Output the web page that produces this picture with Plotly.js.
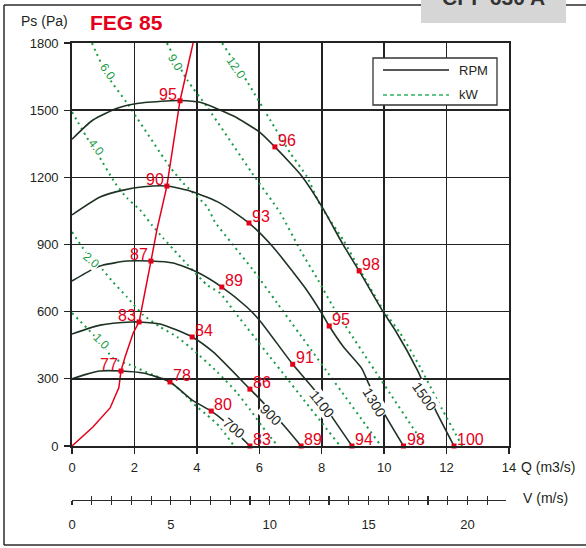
<!DOCTYPE html>
<html><head><meta charset="utf-8">
<script src="https://cdn.plot.ly/plotly-3.0.1.min.js"></script>
<style>html,body{margin:0;padding:0;background:#fff}#chart{width:586px;height:548px}</style>
</head><body><div id="chart"></div>
<script>
// ---------- DATA ----------
const xTicks = [0,2,4,6,8,10,12,14];
const yTicks = [0,300,600,900,1200,1500,1800];
const vTicks = [0,5,10,15,20];

// fan curves (Q m3/s, Ps Pa)
const rpmNames = ['700','900','1100','1300','1500'];
const q700 = [0,0.45,0.9,1.57,2.28,3.14,3.85,4.46,4.84,5.7];
const p700 = [300,320,335,335,326,286,205,156,116,0];
const q900 = [0,0.9,1.92,2.15,2.82,3.85,4.52,5.7,6.05,6.83,7.34];
const p900 = [500,540,554,554,545,487,420,254,205,85,0];
const q1100 = [0,0.67,1.0,1.76,2.53,3.24,4.0,4.8,5.6,6.0,7.07,7.8,8.33,8.97];
const p1100 = [737,790,808,826,826,817,777,710,621,563,365,245,130,0];
const q1300 = [0,0.9,1.64,2.3,3.04,3.88,4.74,5.67,6.44,7.08,7.5,8.0,8.24,8.7,9.28,9.5,10.06,10.62];
const p1300 = [1032,1112,1143,1158,1161,1135,1085,996,889,777,700,593,536,442,347,280,131,0];
const q1500 = [0,0.67,1.47,2.08,3.04,3.46,4.1,5.16,6.03,6.5,6.99,7.37,8.01,8.69,9.2,9.97,10.35,11.06,11.63,12.24];
const p1500 = [1370,1456,1510,1530,1541,1543,1535,1475,1400,1336,1264,1204,1068,898,782,599,518,340,165,0];

// power lines (kW)
const kwNames = ['1.0','2.0','4.0','6.0','9.0','12.0'];
const qKw1 = [0,0.9,1.31,1.86,2.6,3.14,3.56,4.01,4.33,4.74,5.19];
const pKw1 = [594,465,393,362,317,286,237,174,138,85,0];
const qKw2 = [0,0.58,0.99,1.31,1.76,2.28,2.82,3.37,3.88,4.65,5.29,5.71,6.25,6.6];
const pKw2 = [956,840,786,733,666,585,532,487,429,331,237,161,58,0];
const qKw4 = [0,0.58,0.8,1.38,1.76,2.18,2.56,2.92,4.33,4.74,5.16,8.59];
const pKw4 = [1492,1354,1309,1175,1108,1054,987,929,719,683,608,0];
const qKw6 = [0.64,1.12,1.76,3.14,3.56,4.33,4.58,5.16,5.8,6.57,9.9];
const pKw6 = [1800,1657,1532,1246,1175,1068,1001,898,786,639,0];
const qKw9 = [3.04,3.69,4.33,5.77,6.67,7.31,7.88,8.37,11.31];
const pKw9 = [1800,1635,1514,1219,1041,876,742,621,0];
const qKw12 = [4.81,5.64,6.35,6.99,7.53,7.95,8.69,9.17,9.97,10.51,11.15,11.7,12.5];
const pKw12 = [1800,1621,1456,1309,1202,1077,920,800,608,505,353,205,0];

// best-efficiency line
const qBest = [0,0.67,1.22,1.5,1.57,1.7,1.96,2.15,2.53,2.72,3.04,3.46,3.88];
const pBest = [0,85,170,260,335,398,505,554,826,965,1161,1542,1800];

// efficiency points on the best-efficiency line
const effPeakQ = [1.57,2.15,2.53,3.04,3.46];
const effPeakP = [335,554,826,1161,1542];
const effPeakTxt = ['77','83','87','90','95'];
// other efficiency points
const effQ = [3.14,4.46,5.7, 3.85,5.7,7.34, 4.8,7.07,8.97, 5.67,8.24,10.62, 6.5,9.2,12.24];
const effP = [286,156,0, 487,254,0, 710,365,0, 996,536,0, 1336,782,0];
const effTxt = ['78','80','83','84','86','89','89','91','94','93','95','98','96','98','100'];

const vPerQ = 1.5785; // V (m/s) per Q (m3/s)

// ---------- LAYOUT HELPERS ----------
const W=586,H=548,ML=72,MR=77,MT=43,MB=48;
const fx = p => (p-ML)/(W-ML-MR);
const fy = p => (H-MB-p)/(H-MT-MB);
const FONT = 'Liberation Sans, Arial, sans-serif';
const DARK = '#1f3324', RED = '#e3001b', GREEN = '#1a9c48', INK = '#231f20', GRID = '#222222';

const traces = [];
const kwQ = [qKw1,qKw2,qKw4,qKw6,qKw9,qKw12], kwP = [pKw1,pKw2,pKw4,pKw6,pKw9,pKw12];
kwQ.forEach((q,i)=>traces.push({x:q,y:kwP[i],mode:'lines',type:'scatter',hoverinfo:'skip',showlegend:false,
  line:{color:GREEN,width:2,dash:'2px,4px',shape:'spline',smoothing:0.6}}));
const rQ=[q700,q900,q1100,q1300,q1500], rP=[p700,p900,p1100,p1300,p1500];
rQ.forEach((q,i)=>traces.push({x:q,y:rP[i],mode:'lines',type:'scatter',hoverinfo:'skip',showlegend:false,
  line:{color:DARK,width:1.6,shape:'spline',smoothing:0.6}}));
traces.push({x:qBest,y:pBest,mode:'lines',type:'scatter',hoverinfo:'skip',showlegend:false,
  line:{color:RED,width:1.5,shape:'linear'}});
traces.push({x:effPeakQ.concat(effQ),y:effPeakP.concat(effP),mode:'markers',type:'scatter',cliponaxis:false,
  hoverinfo:'skip',showlegend:false,marker:{color:RED,size:5,symbol:'square'}});
traces.push({x:[null],y:[null],xaxis:'x2',yaxis:'y',type:'scatter',mode:'markers',showlegend:false,hoverinfo:'skip'});
traces.push({x:[null],y:[null],xaxis:'x3',yaxis:'y',type:'scatter',mode:'markers',showlegend:false,hoverinfo:'skip'});

const ann = [];
effPeakQ.forEach((q,i)=>ann.push({x:q,y:effPeakP[i],text:effPeakTxt[i],showarrow:false,xanchor:'right',yanchor:'bottom',
  xshift:-1,yshift:-4,font:{family:FONT,size:16,color:RED}}));
effQ.forEach((q,i)=>ann.push({x:q,y:effP[i],text:effTxt[i],showarrow:false,xanchor:'left',yanchor:'bottom',
  xshift:1,yshift:-4,font:{family:FONT,size:16,color:RED}}));
// RPM labels along curves
const rpmLabPos = [[5.19,80,40],[6.38,138,45],[8.01,188,52],[9.68,197,59],[11.28,223,55]];
rpmNames.forEach((t,i)=>ann.push({x:rpmLabPos[i][0],y:rpmLabPos[i][1],text:t,textangle:rpmLabPos[i][2],showarrow:false,
  bgcolor:'#ffffff',borderpad:0,font:{family:FONT,size:14,color:INK}}));
const kwLabPos = [[0.93,469,45],[0.61,831,41],[0.77,1336,51],[1.15,1671,55],[3.3,1715,59],[5.26,1688,56]];
kwNames.forEach((t,i)=>ann.push({x:kwLabPos[i][0],y:kwLabPos[i][1],text:t,textangle:kwLabPos[i][2],showarrow:false,
  bgcolor:'#ffffff',borderpad:0,font:{family:FONT,size:12,color:GREEN}}));
// texts
const paperTxt = (x,y,t,xa,size,color,bold)=>({xref:'paper',yref:'paper',x:fx(x),y:fy(y),text:bold?'<b>'+t+'</b>':t,
  showarrow:false,xanchor:xa,yanchor:'middle',font:{family:FONT,size:size,color:color}});
ann.push(paperTxt(70,21,'Ps (Pa)','right',14,INK));
ann.push(paperTxt(88,22,'FEG 85','left',21,RED,true));
ann.push(paperTxt(493,-2,'CPF 630 A','center',21,'#333333',true));
ann.push(paperTxt(519,467,'Q (m3/s)','left',14,INK));
ann.push(paperTxt(521,498,'V (m/s)','left',14,INK));
ann.push(paperTxt(457,71,'RPM','left',13,INK));
ann.push(paperTxt(457,95,'kW','left',13,INK));

const pline = (x0,y0,x1,y1,color,w,dash)=>({type:'line',xref:'paper',yref:'paper',x0:fx(x0),y0:fy(y0),x1:fx(x1),y1:fy(y1),
  line:{color:color,width:w,dash:dash||'solid'}});
const shapes = [
  {type:'rect',xref:'paper',yref:'paper',x0:fx(421),x1:fx(566),y0:fy(23),y1:fy(-10),fillcolor:'#d6d6d6',line:{width:0},layer:'below'},
  pline(4,5,421,5,'#2b2b2b',1.5), pline(566,5,590,5,'#2b2b2b',1.5),
  pline(4,5,4,545,'#2b2b2b',1.5), pline(4,545,590,545,'#2b2b2b',1.5),
  {type:'rect',xref:'paper',yref:'paper',x0:fx(373),x1:fx(497),y0:fy(105),y1:fy(58),fillcolor:'#ffffff',line:{color:'#333',width:1.3}},
  pline(383,70,449,70,INK,1.3), pline(383,95,449,95,'#2fb360',1.6,'4px,3px')
];

const tickfont = {family:FONT,size:13,color:INK};
const layout = {
  width:W,height:H,margin:{l:ML,r:MR,t:MT,b:MB,pad:0},
  paper_bgcolor:'#ffffff',plot_bgcolor:'rgba(0,0,0,0)',showlegend:false,
  xaxis:{range:[0,14],tickvals:xTicks,ticks:'outside',ticklen:6,tickwidth:1.3,tickcolor:GRID,
    showgrid:true,gridcolor:GRID,gridwidth:1.6,zeroline:false,showline:true,mirror:true,linecolor:GRID,linewidth:1.8,
    tickfont:tickfont,ticklabelstandoff:3,anchor:'y',fixedrange:true},
  yaxis:{range:[0,1800],tickvals:yTicks,domain:[fy(446),1],ticks:'outside',ticklen:6,tickwidth:1.3,tickcolor:GRID,
    showgrid:true,gridcolor:GRID,gridwidth:1.6,zeroline:false,showline:true,mirror:true,linecolor:GRID,linewidth:1.8,
    tickfont:tickfont,ticklabelstandoff:3,fixedrange:true},
  xaxis2:{range:[0,14*vPerQ*0.992],domain:[0,0.992],anchor:'free',position:0,tickvals:vTicks,ticks:'outside',ticklen:4,
    tickwidth:1.2,tickcolor:'#2b2b2b',showgrid:false,zeroline:false,showline:true,linecolor:'#2b2b2b',linewidth:1.3,
    minor:{dtick:1,ticks:'outside',ticklen:4,tickwidth:1.2,tickcolor:'#2b2b2b',showgrid:false},
    tickfont:tickfont,ticklabelstandoff:8,fixedrange:true},
  xaxis3:{range:[0,14*vPerQ*0.992],overlaying:'x2',anchor:'free',position:0,tickvals:vTicks,ticks:'inside',ticklen:4,
    tickwidth:1.2,tickcolor:'#2b2b2b',showgrid:false,zeroline:false,showline:false,showticklabels:false,
    minor:{dtick:1,ticks:'inside',ticklen:4,tickwidth:1.2,tickcolor:'#2b2b2b',showgrid:false},fixedrange:true},
  annotations:ann,shapes:shapes
};
Plotly.newPlot('chart',traces,layout,{displayModeBar:false,staticPlot:true});
</script></body></html>
